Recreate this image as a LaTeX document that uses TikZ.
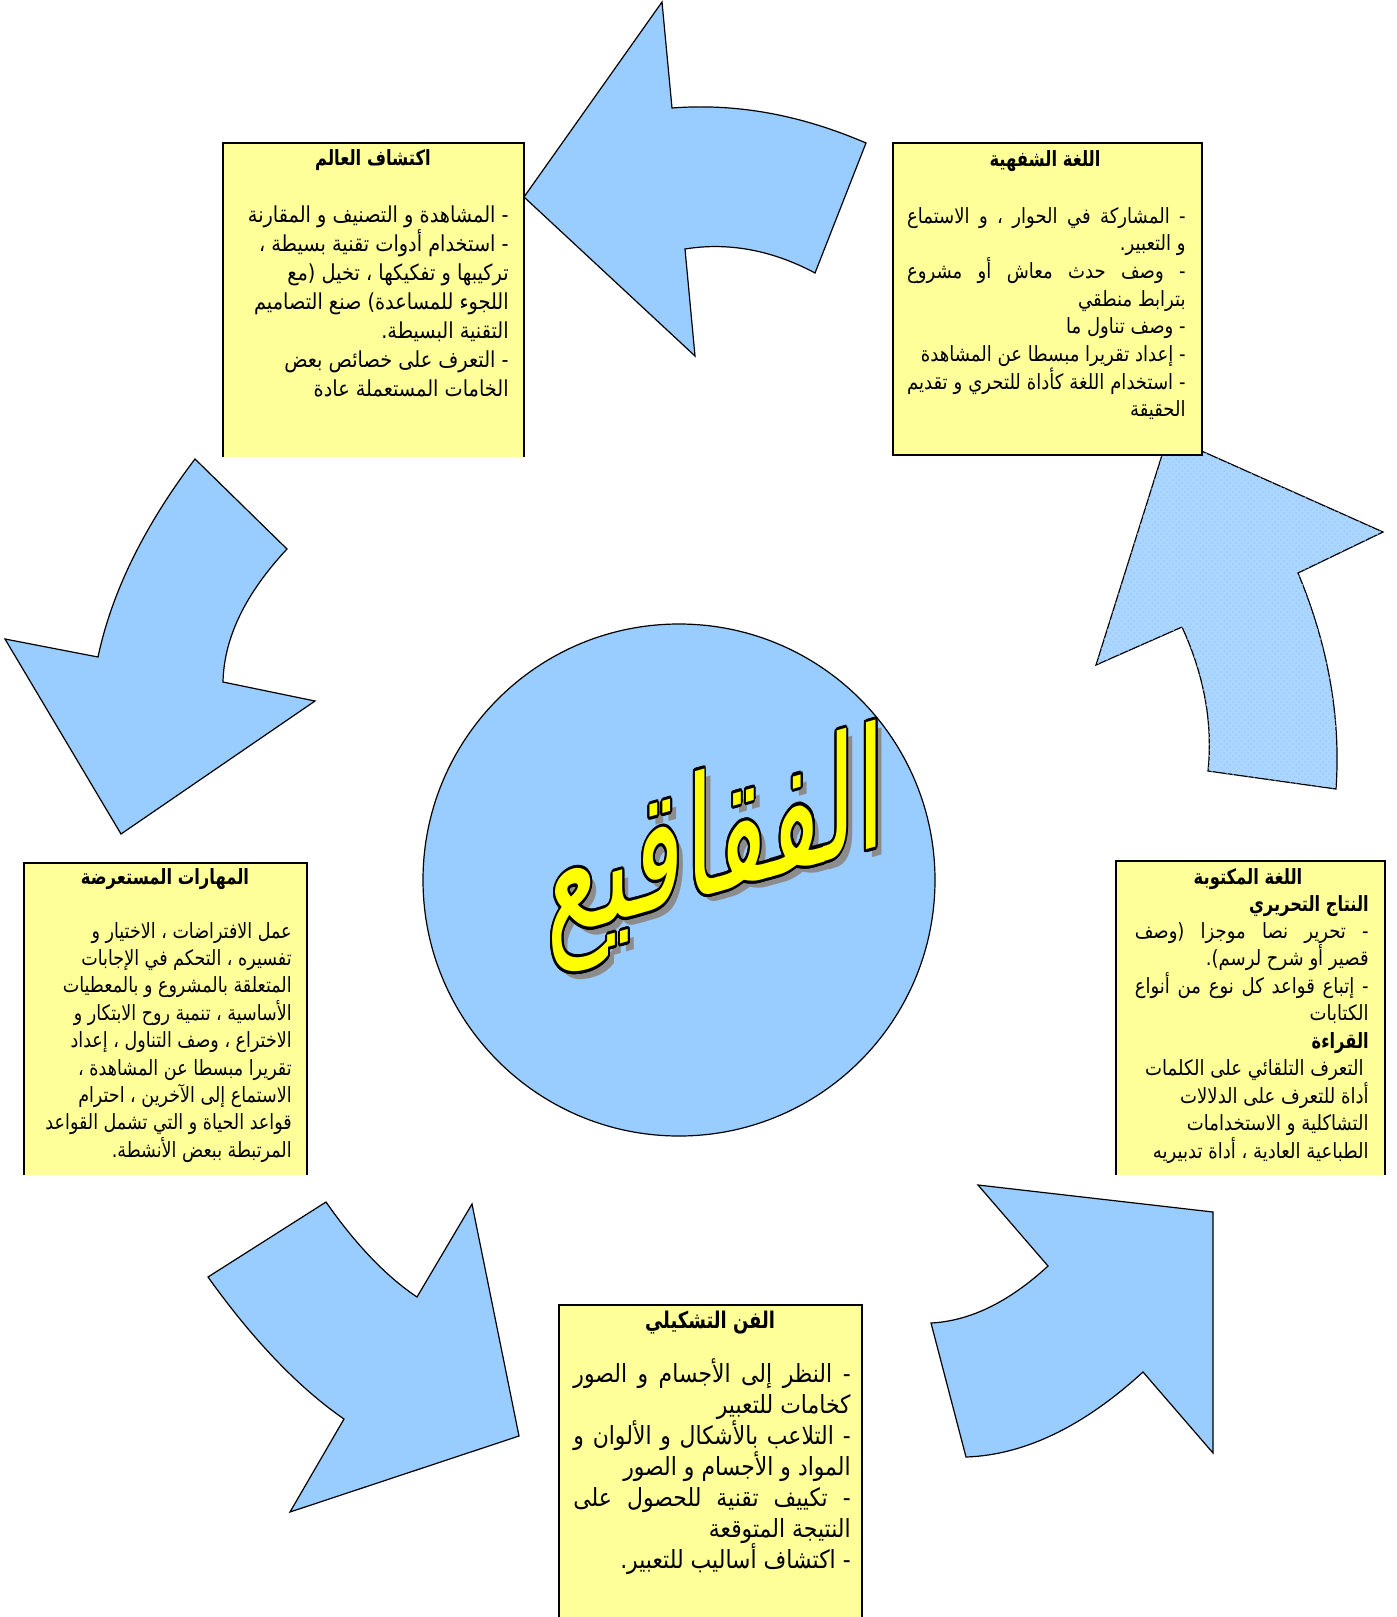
\documentclass[tikz,border=0pt]{standalone}
\usepackage{fontspec}
\usepackage{contour}
\usetikzlibrary{patterns}
\TeXXeTstate=1
\newfontfamily\arabicfont[Script=Arabic]{DejaVu Sans}
\definecolor{arrowblue}{RGB}{153,204,255}
\definecolor{boxyellow}{RGB}{255,255,153}
\definecolor{wordyellow}{RGB}{255,255,0}
\tikzstyle{bigarrow} = [draw=black, fill=arrowblue, line width=0.6pt]
\tikzstyle{panel} = [fill=boxyellow]
\tikzstyle{edge} = [line width=1.1pt]
\tikzstyle{txt} = [anchor=base east, inner sep=0pt, xscale=0.86, font=\arabicfont\fontsize{10.5}{13}\selectfont]
\tikzstyle{bold} = [font=\arabicfont\bfseries\fontsize{10.5}{13}\selectfont, xscale=0.9]
\tikzstyle{ttl} = [anchor=base, inner sep=0pt, xscale=0.78, font=\arabicfont\bfseries\fontsize{10.5}{13}\selectfont]
\contourlength{0.8pt}
% a right-to-left line, stretched to a width when one is given
\newcommand{\rtline}[2]{\ifdim#1>0pt\makebox[#1][s]{\beginR #2\endR}\else\beginR #2\endR\fi}

\begin{document}
\begin{tikzpicture}[x=0.5pt,y=-0.5pt]
\useasboundingbox (0,0) rectangle (1397,1617);

    % the five arrows
    \draw[bigarrow] (524,197) -- (662,2) -- (672,108) .. controls (737,103) and (801,115) .. (866,143)
        -- (815,273) .. controls (772,250) and (728,242) .. (685,249) -- (695,356) -- cycle;
    \draw[bigarrow, fill=arrowblue!80!white] (1168,436) -- (1383,532) -- (1298,573) .. controls (1328,645) and (1341,717) .. (1336,789)
        -- (1208,771) .. controls (1213,723) and (1204,675) .. (1182,627) -- (1096,665) -- cycle;
    \fill[pattern=crosshatch dots, pattern color=arrowblue] (1168,436) -- (1383,532) -- (1298,573) .. controls (1328,645) and (1341,717) .. (1336,789)
        -- (1208,771) .. controls (1213,723) and (1204,675) .. (1182,627) -- (1096,665) -- cycle;
    \draw[bigarrow] (195,459) -- (287,549) .. controls (246,593) and (224,637) .. (223,682) -- (315,701)
        -- (121,834) -- (5,639) -- (98,657) .. controls (112,591) and (145,525) .. (195,459) -- cycle;
    \draw[bigarrow] (326,1202) .. controls (356,1245) and (387,1277) .. (417,1297) -- (472,1204) -- (519,1436)
        -- (290,1512) -- (344,1419) .. controls (299,1388) and (253,1340) .. (208,1277) -- cycle;
    \draw[bigarrow] (978,1185) -- (1213,1212) -- (1213,1453) -- (1143,1372) .. controls (1084,1426) and (1025,1455) .. (966,1457)
        -- (931,1323) .. controls (970,1321) and (1009,1302) .. (1048,1266) -- cycle;

    % centre
    \draw[fill=arrowblue, line width=0.6pt] (679,880) circle [radius=128pt];
    \node[text=black!45, font=\arabicfont\fontsize{44}{44}\selectfont, xscale=1.2, yscale=1.9, yslant=0.18] (shadow) at (722,857) {\beginR الفقاقيع\endR};
    \node[text=wordyellow, font=\arabicfont\fontsize{44}{44}\selectfont, xscale=1.2, yscale=1.9, yslant=0.18] (word) at (716,851) {\contour{black}{\beginR الفقاقيع\endR}};

    % boxes
    \fill[panel] (223,143) rectangle (524,457);
    \draw[edge] (223,457) -- (223,143) -- (524,143) -- (524,457);
    \fill[panel] (893,143) rectangle (1202,455);
    \draw[edge] (893,143) rectangle (1202,455);
    \fill[panel] (24,863) rectangle (307,1175);
    \draw[edge] (24,1175) -- (24,863) -- (307,863) -- (307,1175);
    \fill[panel] (1116,861) rectangle (1385,1175);
    \draw[edge] (1116,1175) -- (1116,861) -- (1385,861) -- (1385,1175);
    \fill[panel] (559,1305) rectangle (862,1617);
    \draw[edge] (559,1617) -- (559,1305) -- (862,1305) -- (862,1617);

    % texts
    \node[ttl] (kashftitle) at (373,165) {\beginR اكتشاف العالم\endR};
    \foreach \t [count=\i] in {- المشاهدة و التصنيف و المقارنة, - استخدام أدوات تقنية بسيطة ،, تركيبها و تفكيكها ، تخيل (مع, اللجوء للمساعدة) صنع التصاميم, التقنية البسيطة., - التعرف على خصائص بعض, الخامات المستعملة  عادة}
        \node[txt, xscale=1.02, font=\arabicfont\fontsize{11}{13}\selectfont] (kashf\i) at (509,{222+29*(\i-1)}) {\beginR\t\endR};

    \node[ttl] (shafahtitle) at (1045,166) {\beginR اللغة الشفهية\endR};
    \foreach \t/\w [count=\i] in {- المشاركة في الحوار ، و الاستماع/162pt, و التعبير./0pt, - وصف حدث معاش أو مشروع/162pt, بترابط منطقي/0pt, - وصف تناول ما/0pt, - إعداد تقريرا مبسطا عن المشاهدة/0pt, - استخدام اللغة كأداة للتحري و تقديم/162pt, الحقيقة/0pt}
        \node[txt] (shafah\i) at (1186,{223+27.7*(\i-1)}) {\rtline{\w}{\t}};

    \node[ttl] (maharattitle) at (165,884) {\beginR المهارات المستعرضة\endR};
    \foreach \t [count=\i] in {عمل الافتراضات ، الاختيار  و, تفسيره ،  التحكم في الإجابات, المتعلقة بالمشروع و بالمعطيات, الأساسية ، تنمية روح الابتكار و, الاختراع ، وصف التناول ، إعداد, تقريرا مبسطا عن المشاهدة ،, الاستماع إلى الآخرين ، احترام, قواعد الحياة و التي تشمل القواعد, المرتبطة ببعض الأنشطة.}
        \node[txt, xscale=0.97] (maharat\i) at (292,{938+27.4*(\i-1)}) {\beginR\t\endR};

    \node[ttl] (katibtitle) at (1248,884) {\beginR اللغة المكتوبة\endR};
    \node[txt, bold] (nitaj) at (1369,911) {\beginR النتاج التحريري\endR};
    \foreach \t/\w [count=\i] in {- تحرير نصا موجزا (وصف/136pt, قصير أو شرح لرسم)./0pt, - إتباع قواعد كل نوع من أنواع/136pt, الكتابات/0pt}
        \node[txt] (nitaj\i) at (1369,{938+27.5*(\i-1)}) {\rtline{\w}{\t}};
    \node[txt, bold] (qiraa) at (1369,1048) {\beginR القراءة\endR};
    \node[txt] (qiraa1) at (1364,1075.5) {\beginR التعرف التلقائي على الكلمات\endR};
    \foreach \t [count=\i from 2] in {أداة للتعرف على الدلالات, التشاكلية و الاستخدامات, الطباعية العادية ، أداة تدبيريه}
        \node[txt] (qiraa\i) at (1369,{1075.5+27.5*(\i-1)}) {\beginR\t\endR};

    \node[ttl, font=\arabicfont\bfseries\fontsize{11.5}{14}\selectfont] (fantitle) at (710,1328) {\beginR الفن التشكيلي\endR};
    \foreach \t/\w [count=\i] in {- النظر إلى الأجسام و الصور/158pt, كخامات للتعبير/0pt, - التلاعب بالأشكال و الألوان و/158pt, المواد و الأجسام و الصور/0pt, - تكييف تقنية للحصول على/158pt, النتيجة المتوقعة/0pt, - اكتشاف أساليب للتعبير./0pt}
        \node[txt, xscale=1.02, font=\arabicfont\fontsize{12.5}{15}\selectfont] (fan\i) at (851,{1382+31*(\i-1)}) {\rtline{\w}{\t}};
\end{tikzpicture}
\end{document}
